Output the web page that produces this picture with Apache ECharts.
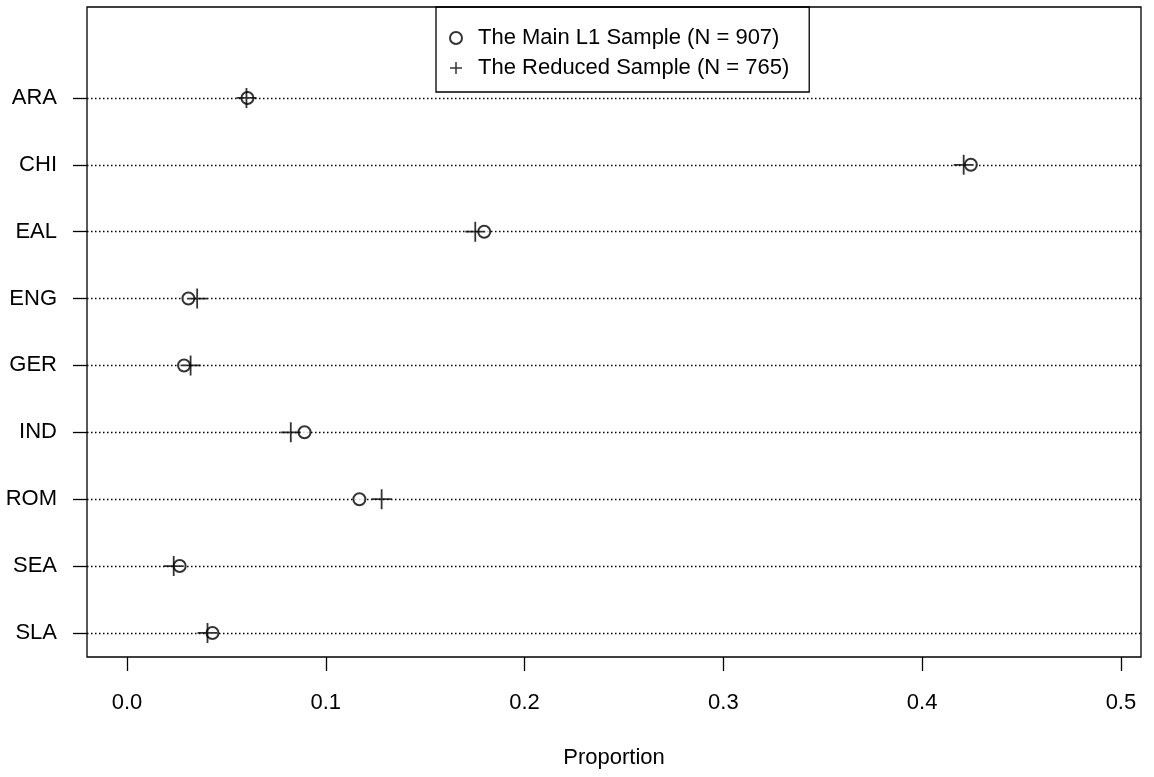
<!DOCTYPE html>
<html>
<head>
<meta charset="utf-8">
<script src="https://cdn.jsdelivr.net/npm/echarts@6/dist/echarts.min.js"></script>
<style>html,body{margin:0;padding:0;background:#fff}#c{width:1154px;height:777px}</style>
</head>
<body>
<div id="c"></div>
<script>
const categories = ['ARA', 'CHI', 'EAL', 'ENG', 'GER', 'IND', 'ROM', 'SEA', 'SLA'];
const mainSample = [0.0606, 0.4245, 0.1797, 0.0309, 0.0287, 0.0893, 0.1169, 0.0265, 0.0430];
const reducedSample = [0.0601, 0.4209, 0.1752, 0.0353, 0.0320, 0.0824, 0.1281, 0.0235, 0.0405];
const xTicks = [0.0, 0.1, 0.2, 0.3, 0.4, 0.5];
const seriesNames = ['The Main L1 Sample (N = 907)', 'The Reduced Sample (N = 765)'];
const xTitle = 'Proportion';

const FONT = "'Liberation Sans', Arial, sans-serif";
const idx = categories.map((c, i) => i);
const plusPath = 'path://M10,0L10,20M0,10L20,10';

const chart = echarts.init(document.getElementById('c'), null, {renderer: 'canvas'});
chart.setOption({
  animation: false,
  backgroundColor: '#fff',
  grid: {left: 87, right: 13, top: 7, bottom: 120, show: true, borderColor: '#000', borderWidth: 1.3, containLabel: false},
  legend: {
    left: 436, top: 7,
    orient: 'vertical',
    data: [{name: seriesNames[0], icon: 'emptyCircle'}, {name: seriesNames[1], icon: plusPath}],
    itemWidth: 34, itemHeight: 12, itemGap: 8,
    padding: [20, 20, 13, 13],
    borderColor: '#000', borderWidth: 1.3,
    textStyle: {fontFamily: FONT, fontSize: 22, lineHeight: 22, color: '#000'},
    itemStyle: {borderWidth: 1.5},
    selectedMode: false
  },
  xAxis: {
    type: 'value',
    min: -0.02012, max: 0.5101,
    name: xTitle, nameLocation: 'middle', nameGap: 90,
    nameTextStyle: {fontFamily: FONT, fontSize: 22, color: '#000'},
    axisLine: {show: false, onZero: false},
    splitLine: {show: false},
    axisTick: {show: true, customValues: xTicks, length: 14, lineStyle: {color: '#000', width: 1.3}},
    axisLabel: {customValues: xTicks, margin: 35, fontFamily: FONT, fontSize: 22, color: '#000',
      formatter: v => Number(v).toFixed(1)}
  },
  yAxis: {
    type: 'value', inverse: true,
    min: -1.36, max: 8.36,
    axisLine: {show: false, onZero: false},
    splitLine: {show: false},
    axisTick: {show: true, customValues: idx, length: 14, lineStyle: {color: '#000', width: 1.3}},
    axisLabel: {customValues: idx, margin: 30, fontFamily: FONT, fontSize: 22, color: '#000',
      formatter: v => categories[Math.round(v)]}
  },
  series: [
    {
      name: seriesNames[0], type: 'scatter',
      symbol: 'emptyCircle', symbolSize: 12,
      itemStyle: {color: '#000', borderColor: '#000', borderWidth: 1.6},
      data: mainSample.map((v, i) => [v, i]),
      markLine: {
        silent: true, symbol: 'none', label: {show: false},
        lineStyle: {color: '#000', type: [1.5, 2.5], width: 1.3},
        data: idx.map(i => ({yAxis: i})),
        z: 1
      },
      z: 2
    },
    {
      name: seriesNames[1], type: 'scatter',
      symbol: plusPath, symbolSize: 20,
      itemStyle: {color: '#000', borderColor: '#000', borderWidth: 1.8},
      data: reducedSample.map((v, i) => [v, i]),
      z: 3
    }
  ]
});
</script>
</body>
</html>
